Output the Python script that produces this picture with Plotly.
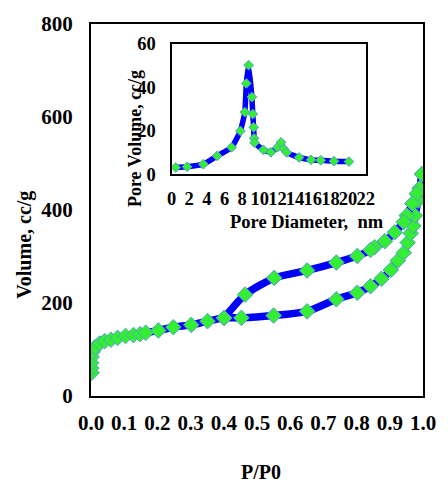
import plotly.graph_objects as go

# Main isotherm (adsorption / desorption)
ads_p = [0.002, 0.001, 0.001, 0.002, 0.005, 0.012, 0.026, 0.041, 0.060, 0.080, 0.104, 0.128,
         0.148, 0.165, 0.203, 0.248, 0.302, 0.351, 0.401, 0.453, 0.550, 0.651, 0.739, 0.802,
         0.842, 0.875, 0.903, 0.924, 0.942, 0.954, 0.963, 0.971, 0.976, 0.985, 0.992, 0.997]
ads_v = [50, 60, 71, 84, 95, 105, 113, 118, 121, 125, 129, 131,
         133, 136, 141, 148, 153, 161, 168, 168, 173, 182, 208, 222,
         236, 252, 271, 291, 308, 330, 350, 366, 388, 420, 445, 477]
des_p = [0.997, 0.990, 0.981, 0.968, 0.951, 0.942, 0.915, 0.885, 0.854, 0.842, 0.802, 0.739,
         0.651, 0.552, 0.464, 0.401]
des_v = [477, 447, 435, 414, 388, 374, 352, 333, 320, 314, 301, 287,
         270, 254, 218, 168]

# Inset: pore size distribution
pore_d = [0.47, 1.76, 3.6, 5.17, 6.8, 7.8, 8.3, 8.47, 8.73, 9.1, 9.2, 9.3, 9.35, 9.4,
          10.4, 11.25, 12.0, 12.4, 12.7, 13.05, 14.45, 15.8, 16.9, 18.4, 20.1]
pore_v = [3.1, 3.4, 4.6, 8.4, 12.4, 19.9, 28.6, 41.8, 50.2, 35.5, 27.7, 21.6, 16.5, 14.5,
          11.2, 10.1, 12.4, 14.7, 11.7, 10.0, 7.7, 6.6, 6.4, 6.0, 5.8]

main_x_ticks = [0, 0.1, 0.2, 0.3, 0.4, 0.5, 0.6, 0.7, 0.8, 0.9, 1.0]
main_y_ticks = [0, 200, 400, 600, 800]
inset_x_ticks = [0, 2, 4, 6, 8, 10, 12, 14, 16, 18, 20, 22]
inset_y_ticks = [0, 20, 40, 60]

FONT = "Liberation Serif"
LINE = "#0000FF"
MFILL = "#33EE33"
MEDGE = "#5B9BD5"

W, H = 448, 484
L, R, T, B = 91, 15, 22, 88
PW, PH = W - L - R, H - T - B


def px(x):
    return (x - L) / PW


def py(y):
    return (H - B - y) / PH


fig = go.Figure()
for xs, ys in [(ads_p, ads_v), (des_p, des_v)]:
    fig.add_trace(go.Scatter(
        x=xs, y=ys, mode="lines+markers",
        line=dict(color=LINE, width=7.5, shape="spline", smoothing=0.6),
        marker=dict(symbol="diamond", size=12, color=MFILL, line=dict(color=MEDGE, width=1)),
        showlegend=False, xaxis="x", yaxis="y"))

fig.add_trace(go.Scatter(
    x=pore_d, y=pore_v, mode="lines+markers",
    line=dict(color=LINE, width=5.5, shape="spline", smoothing=0.4),
    marker=dict(symbol="diamond", size=7.5, color=MFILL, line=dict(color=MEDGE, width=1)),
    showlegend=False, xaxis="x2", yaxis="y2"))

tickfont_main = dict(family=FONT, size=21, color="black", weight="bold")
tickfont_inset = dict(family=FONT, size=18.5, color="black", weight="bold")

fig.update_layout(
    width=W, height=H,
    margin=dict(l=L, r=R, t=T, b=B),
    paper_bgcolor="white", plot_bgcolor="white",
    xaxis=dict(range=[0, 1], tickvals=main_x_ticks, tickformat=".1f", showgrid=False,
               zeroline=False, showline=True, mirror=True, linecolor="black", linewidth=2,
               ticks="", tickangle=0, tickfont=tickfont_main, ticklabelstandoff=7),
    yaxis=dict(range=[0, 800], tickvals=main_y_ticks, showgrid=False, zeroline=False,
               showline=True, mirror=True, linecolor="black", linewidth=2, ticks="",
               tickfont=tickfont_main, ticklabelstandoff=12),
    xaxis2=dict(domain=[px(174), px(374)], anchor="y2", range=[0, 22], tickvals=inset_x_ticks,
                showgrid=False, zeroline=False, showline=True, mirror=True, linecolor="black",
                linewidth=2, ticks="", tickangle=0, tickfont=tickfont_inset,
                ticklabelstandoff=7),
    yaxis2=dict(domain=[py(173), py(42)], anchor="x2", range=[0, 60], tickvals=inset_y_ticks,
                showgrid=False, zeroline=False, showline=True, mirror=True, linecolor="black",
                linewidth=2, ticks="", tickfont=tickfont_inset, ticklabelstandoff=10),
)

titles = [
    ("P/P0", 266, 472, 0, 20),
    ("Volume, cc/g", 23, 244, -90, 20),
    ("Pore Diameter,  nm", 314, 221, 0, 18.5),
    ("Pore Volume, cc/g", 137, 137, -90, 18),
]
for text, x, y, ang, sz in titles:
    fig.add_annotation(text=text, x=px(x), y=py(y), xref="paper", yref="paper",
                       showarrow=False, textangle=ang, xanchor="center", yanchor="middle",
                       font=dict(family=FONT, size=sz, color="black", weight="bold"))

fig.write_html("out.html")
